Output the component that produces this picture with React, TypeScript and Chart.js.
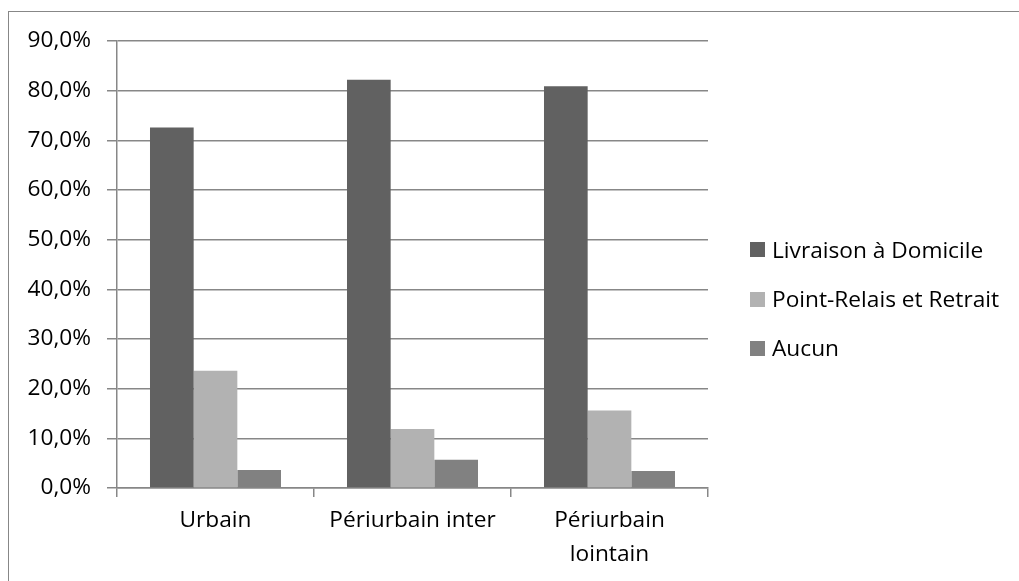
import React, { useEffect, useRef } from "react";
import { Chart, registerables } from "chart.js";

Chart.register(...registerables);

const categories: (string | string[])[] = ["Urbain", "Périurbain inter", ["Périurbain", "lointain"]];
const seriesNames = ["Livraison à Domicile", "Point-Relais et Retrait", "Aucun"];
const livraison = [72.6, 82.2, 80.9];
const pointRelais = [23.6, 11.9, 15.6];
const aucun = [3.6, 5.7, 3.4];
const seriesColors = ["#616161", "#b2b2b2", "#818181"];
const yMin = 0;
const yMax = 90;
const yStep = 10;

const FONT = "'Open Sans', sans-serif";
const FONT_SIZE = 22.7;
const GRID = "#878787";

const legendRows = [249.5, 299, 348];

export default function App() {
  const ref = useRef<HTMLCanvasElement | null>(null);

  useEffect(() => {
    if (!ref.current) return;
    const chart = new Chart(ref.current, {
      type: "bar",
      data: {
        labels: categories,
        datasets: [livraison, pointRelais, aucun].map((d, i) => ({
          label: seriesNames[i],
          data: d,
          backgroundColor: seriesColors[i],
          borderWidth: 0,
          barPercentage: 1,
          categoryPercentage: 0.665,
        })),
      },
      options: {
        animation: false,
        responsive: false,
        maintainAspectRatio: false,
        layout: { padding: { left: 0, top: 41, right: 311, bottom: 0 } },
        plugins: { legend: { display: false }, tooltip: { enabled: false } },
        scales: {
          x: {
            offset: true,
            grid: {
              display: true,
              offset: true,
              drawOnChartArea: false,
              drawTicks: true,
              tickLength: 9,
              color: GRID,
              lineWidth: 1.5,
            },
            border: { display: true, color: GRID, width: 1.5 },
            ticks: {
              color: "#000",
              font: { family: FONT, size: FONT_SIZE, lineHeight: 34 / FONT_SIZE },
              padding: 7,
              maxRotation: 0,
              autoSkip: false,
            },
            afterFit: (s: any) => {
              s.height = 581 - 488;
            },
          },
          y: {
            min: yMin,
            max: yMax,
            grid: { color: GRID, lineWidth: 1.5, tickLength: 10, drawTicks: true },
            border: { display: true, color: GRID, width: 1.5 },
            ticks: {
              stepSize: yStep,
              color: "#000",
              padding: 16,
              font: { family: FONT, size: FONT_SIZE },
              callback: (v: any) => Number(v).toFixed(1).replace(".", ",") + "%",
            },
            afterFit: (s: any) => {
              s.width = 117;
            },
          },
        },
      },
    });
    return () => chart.destroy();
  }, []);

  return (
    <div
      style={{
        position: "fixed",
        left: 0,
        top: 0,
        width: 1019,
        height: 581,
        overflow: "hidden",
        background: "#fff",
        fontFamily: FONT,
      }}
    >
      <div
        style={{
          position: "absolute",
          left: 8,
          top: 11,
          width: 1200,
          height: 800,
          border: "1px solid #878787",
        }}
      />
      <canvas ref={ref} width={1019} height={581} style={{ position: "absolute", left: 0, top: 0 }} />
      {seriesNames.map((name, i) => (
        <div key={name}>
          <div
            style={{
              position: "absolute",
              left: 750,
              top: legendRows[i] - 7.5,
              width: 15,
              height: 15,
              background: seriesColors[i],
            }}
          />
          <div
            style={{
              position: "absolute",
              left: 772,
              top: legendRows[i] - 17,
              height: 34,
              lineHeight: "34px",
              fontSize: FONT_SIZE,
              color: "#000",
              whiteSpace: "nowrap",
            }}
          >
            {name}
          </div>
        </div>
      ))}
    </div>
  );
}
